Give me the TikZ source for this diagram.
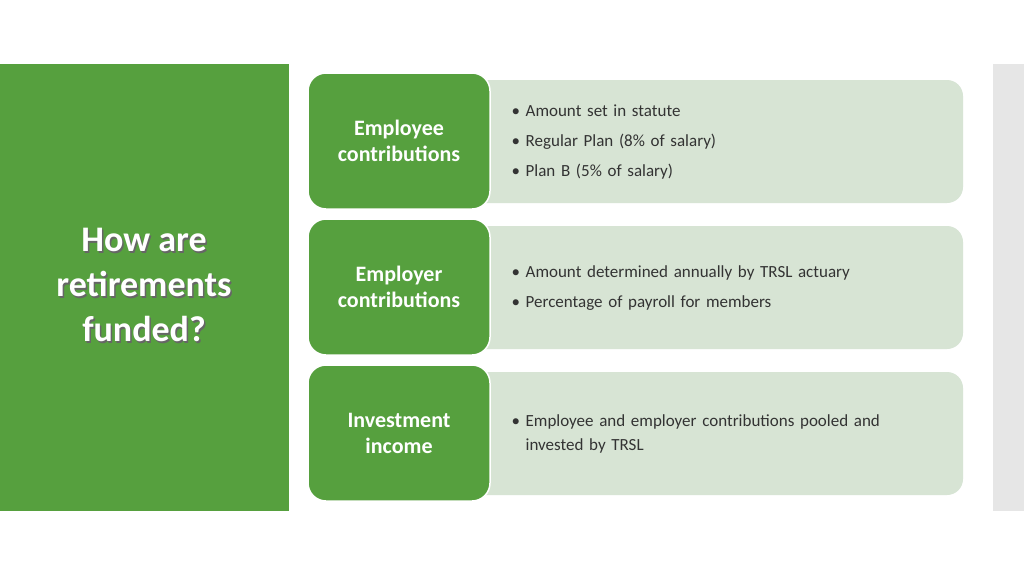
\documentclass[tikz,border=0pt]{standalone}
\usepackage{fontspec}
\setmainfont{Carlito}
\begin{document}
\begin{tikzpicture}[x=1pt,y=-1pt,
  cat/.style={fill=catg,rounded corners=18pt,draw=white,line width=1.5pt},
  det/.style={fill=detg,rounded corners=16pt},
  cattext/.style={text=white,font=\fontsize{22}{26}\selectfont\bfseries,align=center},
  dettext/.style={text=txt,font=\fontsize{17}{24}\selectfont,align=left,anchor=west,text width=420pt}]
\definecolor{catg}{HTML}{56A03E}
\definecolor{detg}{HTML}{D7E4D4}
\definecolor{txt}{HTML}{333333}
\definecolor{side}{HTML}{E6E6E6}
\useasboundingbox (0,0) rectangle (1024,576);
\fill[white] (0,0) rectangle (1024,576);
\fill[catg] (0,64) rectangle (289,511);
\fill[side] (993,64) rectangle (1024,511);
\node[text=black!60,font=\fontsize{36}{45}\selectfont\bfseries,align=center] at (145.5,286.5) {How are\\retirements\\funded?};
\node (title) [text=white,font=\fontsize{36}{45}\selectfont\bfseries,align=center] at (144,285) {How are\\retirements\\funded?};
\foreach \i/\y in {0/0,1/146,2/292}{
  \fill[detg,rounded corners=16pt] (470,80+\y) rectangle (963,203+\y);
}
\draw[cat] (308,73) rectangle (490,209);
\draw[cat] (308,219) rectangle (490,355);
\draw[cat] (308,365) rectangle (490,501);
\node (c1) [cattext] at (399,141) {Employee\\contributions};
\node (c2) [cattext] at (399,287) {Employer\\contributions};
\node (c3) [cattext] at (399,433) {Investment\\income};
\node (d1) [dettext,font=\fontsize{17}{30}\selectfont] at (508,142) {\textbullet\ Amount set in statute\\\textbullet\ Regular Plan (8\% of salary)\\\textbullet\ Plan B (5\% of salary)};
\node (d2) [dettext,font=\fontsize{17}{30}\selectfont] at (508,288) {\textbullet\ Amount determined annually by TRSL actuary\\\textbullet\ Percentage of payroll for members};
\node (d3) [dettext] at (508,434) {\textbullet\ Employee and employer contributions pooled and\\\phantom{\textbullet\ }invested by TRSL};
\end{tikzpicture}
\end{document}
